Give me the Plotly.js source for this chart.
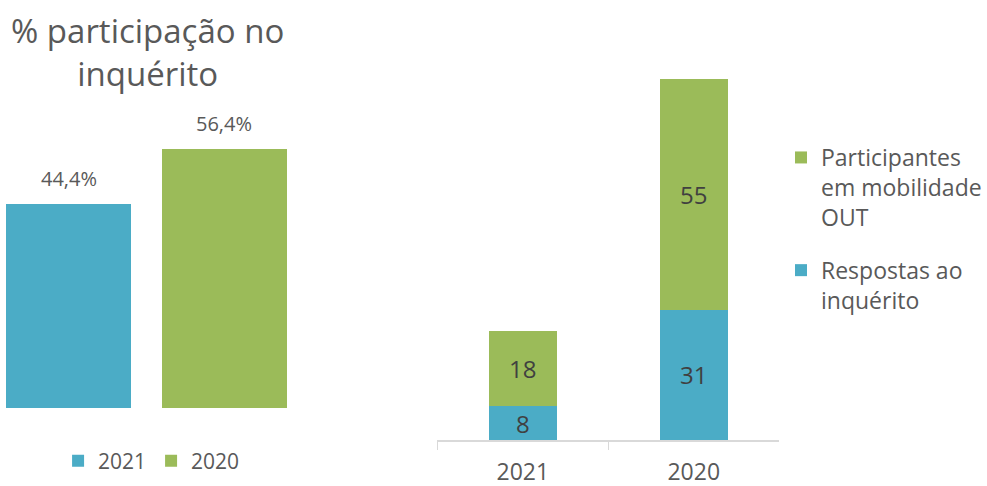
<!DOCTYPE html>
<html>
<head>
<meta charset="utf-8">
<script src="https://cdn.plot.ly/plotly-3.0.1.min.js"></script>
<style>html,body{margin:0;padding:0;background:#fff}#chart{width:987px;height:486px}</style>
</head>
<body>
<div id="chart"></div>
<script>
// Left chart: % participation
const pctYears = ["2021", "2020"];
const pctValues = [44.4, 56.4];
const pctColors = ["#4BACC6", "#9BBB59"];
const pctTitle = "% participação no<br>inquérito";

// Right chart: counts
const years = ["2021", "2020"];
const respostas = [8, 31];
const participantes = [18, 55];
const respostasName = "Respostas ao<br>inquérito";
const participantesName = "Participantes<br>em mobilidade<br>OUT";

const FONT = "Open Sans, sans-serif";
const GREY = "#595959";
const DARK = "#404040";

const traces = [];
pctYears.forEach((yr, i) => {
  traces.push({
    type: "bar", x: [yr], y: [pctValues[i]], name: yr,
    marker: {color: pctColors[i]}, width: 0.805,
    xaxis: "x", yaxis: "y", legend: "legend", hoverinfo: "skip"
  });
});
traces.push({
  type: "bar", x: years, y: respostas, name: respostasName,
  marker: {color: "#4BACC6"}, width: 0.40,
  text: respostas.map(String), textposition: "inside", insidetextanchor: "middle",
  textangle: 0, constraintext: "none", textfont: {family: FONT, size: 24, color: DARK},
  xaxis: "x2", yaxis: "y2", legend: "legend2", legendgroup: "resp", legendrank: 2,
  hoverinfo: "skip"
});
traces.push({
  type: "bar", x: years, y: participantes, name: participantesName,
  marker: {color: "#9BBB59"}, width: 0.40,
  text: participantes.map(String), textposition: "inside", insidetextanchor: "middle",
  textangle: 0, constraintext: "none", textfont: {family: FONT, size: 24, color: DARK},
  xaxis: "x2", yaxis: "y2", legend: "legend2", legendgroup: "part", legendrank: 1,
  hoverinfo: "skip"
});

const annotations = pctYears.map((yr, i) => ({
  xref: "x", yref: "y", x: i, y: pctValues[i],
  text: pctValues[i].toFixed(1).replace(".", ",") + "%",
  showarrow: false, yanchor: "bottom", yshift: 10,
  font: {family: FONT, size: 20, color: GREY}
}));
annotations.push({
  xref: "paper", yref: "paper", x: 148 / 987, y: 1 - 52 / 486,
  text: pctTitle, showarrow: false, xanchor: "center", yanchor: "middle",
  font: {family: FONT, size: 33, color: GREY}
});

const layout = {
  width: 987, height: 486,
  margin: {l: 0, r: 0, t: 0, b: 0},
  paper_bgcolor: "#fff", plot_bgcolor: "#fff",
  barmode: "stack",
  font: {family: FONT, color: GREY},
  showlegend: true,
  xaxis: {
    domain: [0, 303.75 / 987], type: "category", range: [-0.441, 1.5],
    showticklabels: false, showline: false, showgrid: false, zeroline: false, ticks: ""
  },
  yaxis: {
    domain: [(486 - 408) / 486, (486 - 132.5) / 486], range: [0, 60],
    showticklabels: false, showline: false, showgrid: false, zeroline: false, ticks: ""
  },
  xaxis2: {
    domain: [440 / 987, 784 / 987], type: "category", range: [-0.5, 1.5],
    showline: true, linecolor: "#D9D9D9", linewidth: 1.5,
    ticks: "outside", tickson: "boundaries", ticklen: 8, tickcolor: "#D9D9D9", tickwidth: 1.5,
    ticklabelstandoff: 11,
    tickfont: {family: FONT, size: 23, color: GREY}, showgrid: false, zeroline: false,
    anchor: "y2"
  },
  yaxis2: {
    domain: [(486 - 440) / 486, (486 - 62) / 486], range: [0, 90], anchor: "x2",
    showticklabels: false, showline: false, showgrid: false, zeroline: false, ticks: ""
  },
  legend: {
    orientation: "h", x: 152 / 987, xanchor: "center", y: 1 - 461 / 486, yanchor: "middle",
    traceorder: "normal", entrywidth: 48,
    font: {family: FONT, size: 21, color: GREY}, bgcolor: "rgba(0,0,0,0)", itemwidth: 30
  },
  legend2: {
    orientation: "v", x: 786 / 987, xanchor: "left", y: 1 - 136 / 486, yanchor: "top",
    traceorder: "grouped", tracegroupgap: 20, valign: "top",
    font: {family: FONT, size: 23, color: GREY}, bgcolor: "rgba(0,0,0,0)", itemwidth: 30
  },
  annotations: annotations
};

Plotly.newPlot("chart", traces, layout, {displayModeBar: false, staticPlot: true});
</script>
</body>
</html>
